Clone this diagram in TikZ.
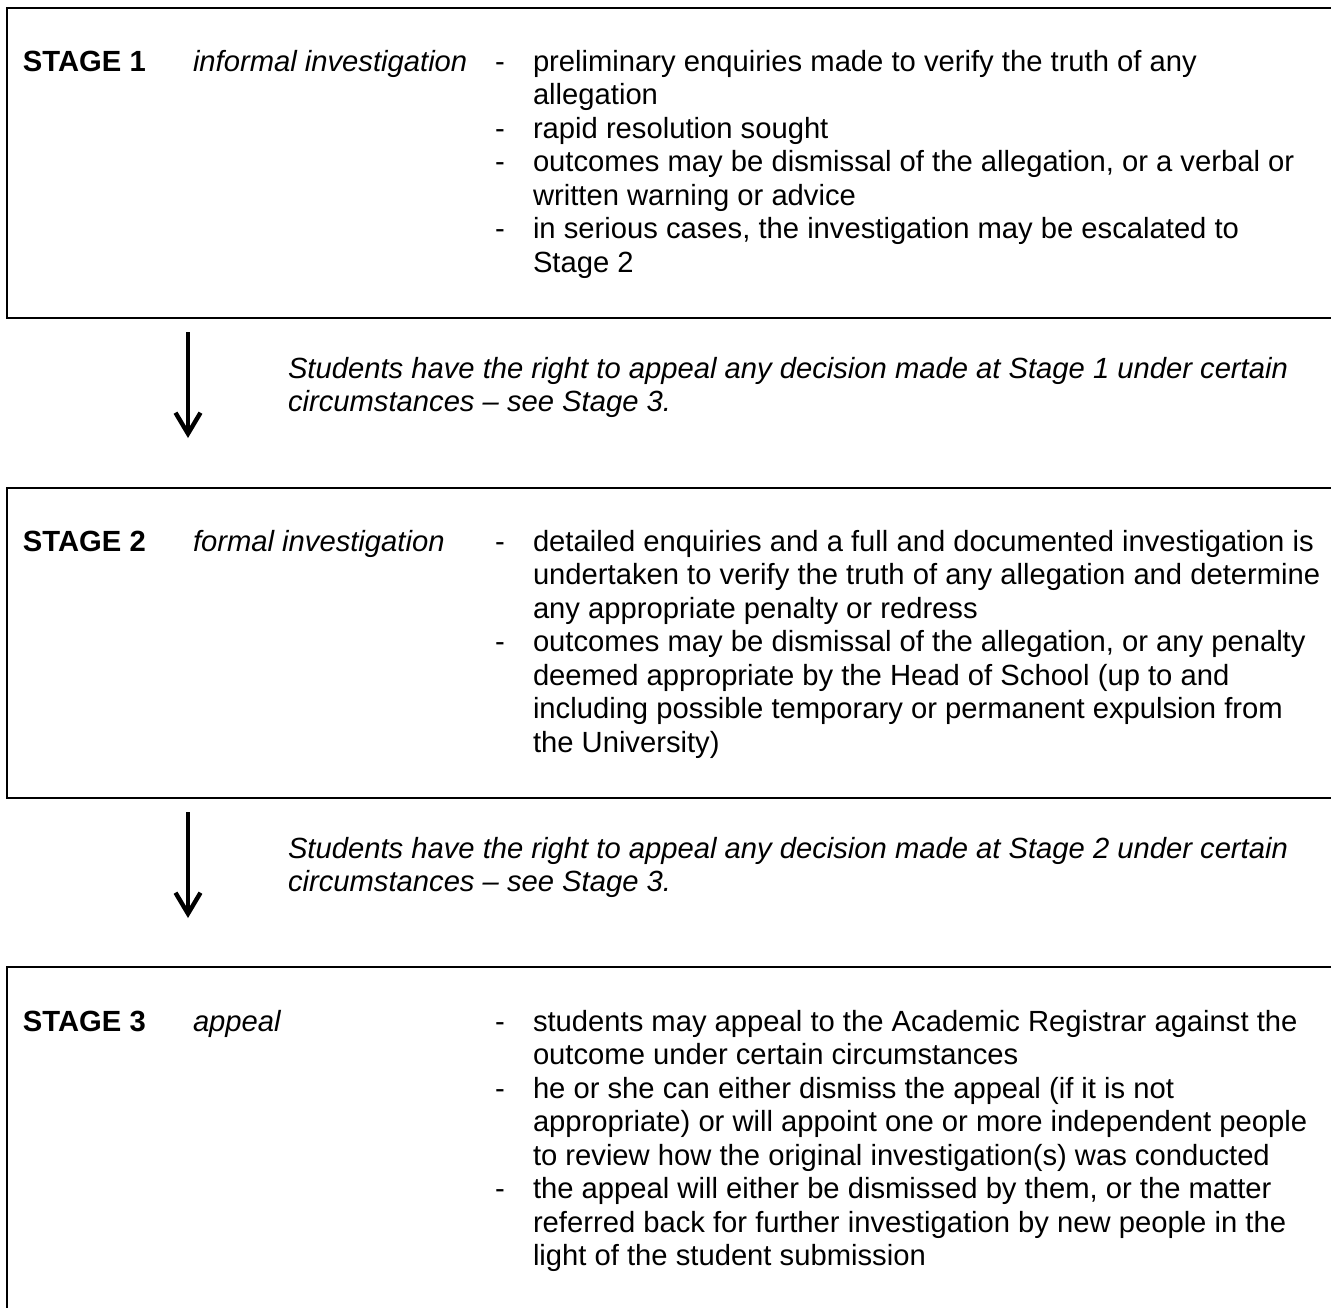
\documentclass[tikz,border=0pt]{standalone}
\usepackage{fontspec}
\setmainfont{Liberation Sans}
\usetikzlibrary{arrows.meta}
\newcommand{\bodyfont}{\fontsize{29.2pt}{33.5pt}\selectfont}
\newcommand{\lines}[1]{\parbox[t]{1200pt}{#1}}
\tikzset{
  stagebox/.style={draw, line width=2.2pt, minimum width=1360pt, anchor=north west, inner sep=0pt, outer sep=0pt},
  txt/.style={anchor=base west, inner sep=0pt, outer sep=0pt, font=\bodyfont},
  stagelabel/.style={txt, font=\bodyfont\bfseries},
  stagename/.style={txt, font=\bodyfont\itshape},
  notetext/.style={txt, font=\bodyfont\itshape},
  dashmark/.style={txt},
  flowarrow/.style={line width=4.4pt, -{Straight Barb[length=21pt,width=25pt]}}
}
\begin{document}
\begin{tikzpicture}[x=1pt,y=-1pt]
\useasboundingbox (0,0) rectangle (1331,1307);
\clip (0,0) rectangle (1331,1307);

% boxes
\node[stagebox, minimum height=310pt] (box1) at (7,8) {};
\node[stagebox, minimum height=310pt] (box2) at (7,488) {};
\node[stagebox, minimum height=380pt] (box3) at (7,967) {};

% Stage 1
\node[stagelabel] (s1) at (23,71) {STAGE 1};
\node[stagename] (s1n) at (193,71) {informal investigation};
\node[dashmark] (d11) at (495,71) {-};
\node[txt] (i11) at (533,71) {\lines{preliminary enquiries made to verify the truth of any\\allegation}};
\node[dashmark] (d12) at (495,138) {-};
\node[txt] (i12) at (533,138) {\lines{rapid resolution sought}};
\node[dashmark] (d13) at (495,171.5) {-};
\node[txt] (i13) at (533,171.5) {\lines{outcomes may be dismissal of the allegation, or a verbal or\\written warning or advice}};
\node[dashmark] (d14) at (495,238.5) {-};
\node[txt] (i14) at (533,238.5) {\lines{in serious cases, the investigation may be escalated to\\Stage 2}};

% arrow 1 and note
\coordinate (a1s) at (188,332);
\coordinate (a1e) at (188,438);
\draw[flowarrow] (a1s) -- (a1e);
\node[notetext] (n1) at (288,378) {\lines{Students have the right to appeal any decision made at Stage 1 under certain\\circumstances -- see Stage 3.}};

% Stage 2
\node[stagelabel] (s2) at (23,551) {STAGE 2};
\node[stagename] (s2n) at (193,551) {formal investigation};
\node[dashmark] (d21) at (495,551) {-};
\node[txt] (i21) at (533,551) {\lines{detailed enquiries and a full and documented investigation is\\undertaken to verify the truth of any allegation and determine\\any appropriate penalty or redress}};
\node[dashmark] (d22) at (495,651.5) {-};
\node[txt] (i22) at (533,651.5) {\lines{outcomes may be dismissal of the allegation, or any penalty\\deemed appropriate by the Head of School (up to and\\including possible temporary or permanent expulsion from\\the University)}};

% arrow 2 and note
\coordinate (a2s) at (188,812);
\coordinate (a2e) at (188,918);
\draw[flowarrow] (a2s) -- (a2e);
\node[notetext] (n2) at (288,858) {\lines{Students have the right to appeal any decision made at Stage 2 under certain\\circumstances -- see Stage 3.}};

% Stage 3
\node[stagelabel] (s3) at (23,1031) {STAGE 3};
\node[stagename] (s3n) at (193,1031) {appeal};
\node[dashmark] (d31) at (495,1031) {-};
\node[txt] (i31) at (533,1031) {\lines{students may appeal to the Academic Registrar against the\\outcome under certain circumstances}};
\node[dashmark] (d32) at (495,1098) {-};
\node[txt] (i32) at (533,1098) {\lines{he or she can either dismiss the appeal (if it is not\\appropriate) or will appoint one or more independent people\\to review how the original investigation(s) was conducted}};
\node[dashmark] (d33) at (495,1198.5) {-};
\node[txt] (i33) at (533,1198.5) {\lines{the appeal will either be dismissed by them, or the matter\\referred back for further investigation by new people in the\\light of the student submission}};
\end{tikzpicture}
\end{document}
